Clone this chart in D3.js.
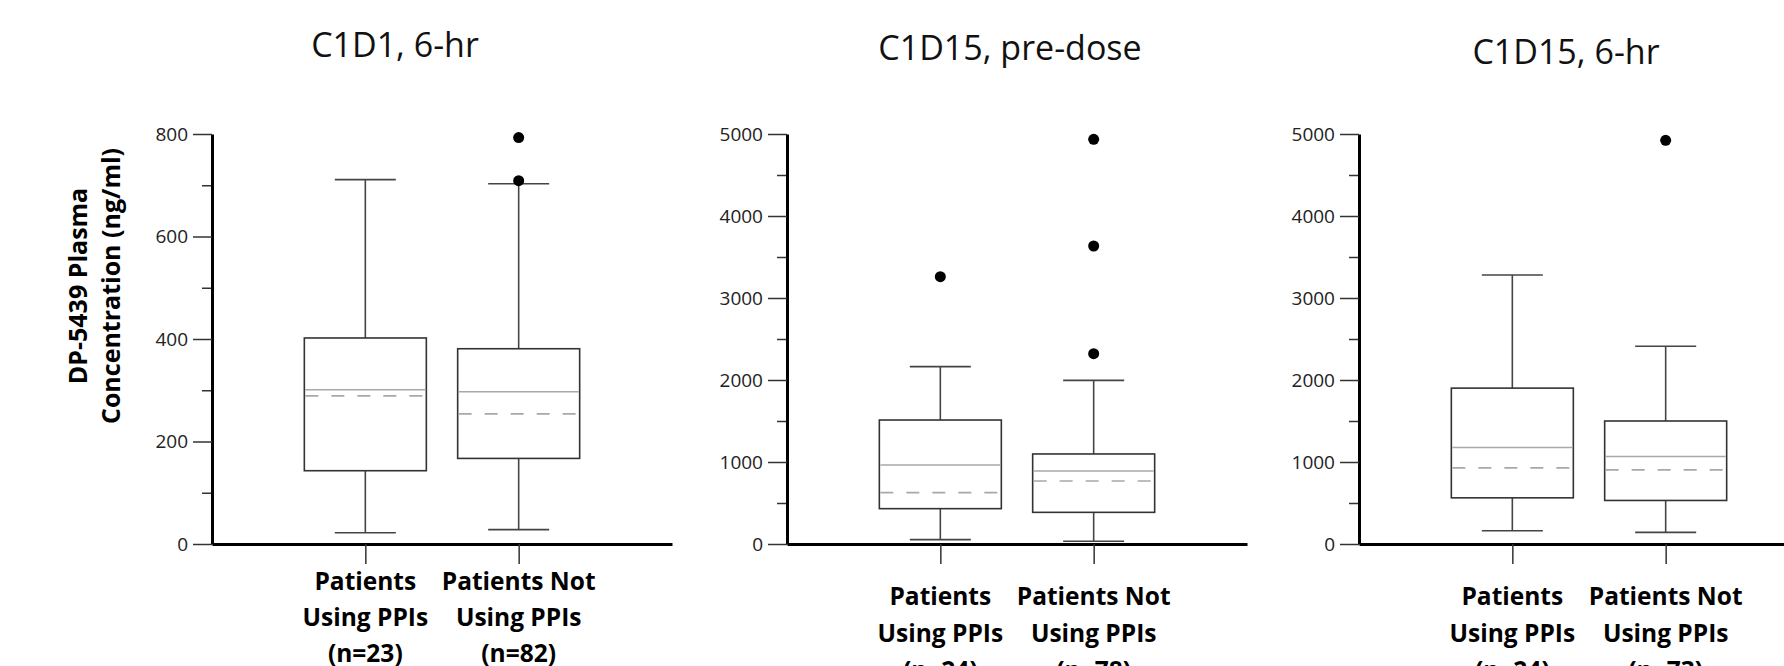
<!DOCTYPE html>
<html>
<head>
<meta charset="utf-8">
<script src="https://cdn.jsdelivr.net/npm/d3@7"></script>
<style>
  body { margin: 0; background: #fff; }
  svg { display: block; font-family: "Open Sans", sans-serif; }
</style>
</head>
<body>
<div id="chart"></div>
<script>
var width = 1784,
    height = 666;

// panels and groups
var panelTitles = ["C1D1, 6-hr", "C1D15, pre-dose", "C1D15, 6-hr"];
var groupLines = [["Patients", "Using PPIs"], ["Patients Not", "Using PPIs"]];
var groupCounts = [[23, 82], [24, 78], [24, 73]];

// box plot values, [using PPIs, not using PPIs]
var whiskerLow  = [[22, 28],   [53, 33],     [162, 142]];
var q1          = [[143, 167], [431, 386],   [563, 531]];
var medians     = [[301, 297], [963, 890],   [1176, 1067]];
var means       = [[289, 254], [626, 768],   [928, 904]];
var q3          = [[402, 381], [1512, 1098], [1901, 1500]];
var whiskerHigh = [[711, 703], [2163, 1996], [3281, 2412]];
var outliers    = [[[], [793, 709]], [[3260], [4935, 3634, 2321]], [[], [4923]]];

// axis ticks
var yMax = [800, 5000, 5000];
var yTicks = [[0, 200, 400, 600, 800],
              [0, 1000, 2000, 3000, 4000, 5000],
              [0, 1000, 2000, 3000, 4000, 5000]];
var yMinorTicks = [[100, 300, 500, 700],
                   [500, 1500, 2500, 3500, 4500],
                   [500, 1500, 2500, 3500, 4500]];

var panelX = [212, 787, 1359];
var titleX = [395, 1010, 1566];
var titleY = [57, 60, 64];
var labelY = [590, 605, 605];
var plotW = 460;
var boxW = 122;

var svg = d3.select('#chart')
  .append('svg')
  .attr('width', width)
  .attr('height', height);

panelTitles.forEach(function(title, p) {
  var g = svg.append('g')
    .attr('transform', 'translate(' + panelX[p] + ',0)');

  var y = d3.scaleLinear().domain([0, yMax[p]]).range([544, 134]);
  var x = d3.scalePoint().domain([0, 1]).range([0, plotW]).padding(1);

  // minor ticks
  g.append('g')
    .call(d3.axisLeft(y).tickValues(yMinorTicks[p]).tickSize(10).tickFormat(''))
    .call(function(s) { s.select('.domain').remove(); });

  // major ticks + axis line
  var ya = g.append('g')
    .call(d3.axisLeft(y).tickValues(yTicks[p]).tickSize(19).tickSizeOuter(0)
      .tickPadding(5).tickFormat(d3.format('d')));
  ya.attr('font-family', '"Open Sans", sans-serif').attr('font-size', 19);
  ya.selectAll('text').attr('fill', '#222');

  g.selectAll('.tick line').attr('stroke', '#333').attr('stroke-width', 1.5);

  var xa = g.append('g')
    .attr('transform', 'translate(0,' + y(0) + ')')
    .call(d3.axisBottom(x).tickSize(20).tickSizeOuter(0).tickFormat(''));
  xa.selectAll('.tick line').attr('stroke', '#333').attr('stroke-width', 1.5);
  xa.select('.domain').attr('stroke', '#000').attr('stroke-width', 3);
  ya.select('.domain').attr('stroke', '#000').attr('stroke-width', 3);

  // boxes
  [0, 1].forEach(function(i) {
    var cx = x(i);
    var bg = g.append('g');

    bg.append('line')
      .attr('x1', cx).attr('x2', cx)
      .attr('y1', y(q3[p][i])).attr('y2', y(whiskerHigh[p][i]));
    bg.append('line')
      .attr('x1', cx).attr('x2', cx)
      .attr('y1', y(q1[p][i])).attr('y2', y(whiskerLow[p][i]));
    bg.append('line')
      .attr('x1', cx - boxW / 4).attr('x2', cx + boxW / 4)
      .attr('y1', y(whiskerHigh[p][i])).attr('y2', y(whiskerHigh[p][i]));
    bg.append('line')
      .attr('x1', cx - boxW / 4).attr('x2', cx + boxW / 4)
      .attr('y1', y(whiskerLow[p][i])).attr('y2', y(whiskerLow[p][i]));
    bg.selectAll('line').attr('stroke', '#444').attr('stroke-width', 1.6);

    bg.append('rect')
      .attr('x', cx - boxW / 2)
      .attr('y', y(q3[p][i]))
      .attr('width', boxW)
      .attr('height', y(q1[p][i]) - y(q3[p][i]))
      .attr('fill', '#fff')
      .attr('stroke', '#333')
      .attr('stroke-width', 1.6);

    bg.append('line')
      .attr('x1', cx - boxW / 2 + 1).attr('x2', cx + boxW / 2 - 1)
      .attr('y1', y(medians[p][i])).attr('y2', y(medians[p][i]))
      .attr('stroke', '#a8a8a8').attr('stroke-width', 1.6);
    bg.append('line')
      .attr('x1', cx - boxW / 2 + 1).attr('x2', cx + boxW / 2 - 1)
      .attr('y1', y(means[p][i])).attr('y2', y(means[p][i]))
      .attr('stroke', '#a8a8a8').attr('stroke-width', 1.6)
      .attr('stroke-dasharray', '13,13');

    bg.selectAll('circle')
      .data(outliers[p][i])
      .enter()
      .append('circle')
      .attr('cx', cx)
      .attr('cy', function(d) { return y(d); })
      .attr('r', 5.5)
      .attr('fill', '#000');

    // category label
    var lbl = g.append('text')
      .attr('x', cx)
      .attr('y', labelY[p])
      .attr('text-anchor', 'middle')
      .style('font-size', '24.5px')
      .style('font-weight', 'bold')
      .attr('fill', '#000');
    groupLines[i].concat(['(n=' + groupCounts[p][i] + ')']).forEach(function(t, k) {
      lbl.append('tspan')
        .attr('x', cx)
        .attr('dy', k === 0 ? 0 : (p === 0 ? 36 : 37))
        .text(t);
    });
  });

  svg.append('text')
    .attr('x', titleX[p])
    .attr('y', titleY[p])
    .attr('text-anchor', 'middle')
    .style('font-size', '34px')
    .attr('fill', '#111')
    .text(title);
});

// y axis title
var yt = svg.append('g')
  .attr('transform', 'translate(0,286) rotate(-90)');
yt.append('text')
  .attr('x', 0).attr('y', 87)
  .attr('text-anchor', 'middle')
  .style('font-size', '25px')
  .style('font-weight', 'bold')
  .text('DP-5439 Plasma');
yt.append('text')
  .attr('x', 0).attr('y', 120)
  .attr('text-anchor', 'middle')
  .style('font-size', '25px')
  .style('font-weight', 'bold')
  .text('Concentration (ng/ml)');
</script>
</body>
</html>
